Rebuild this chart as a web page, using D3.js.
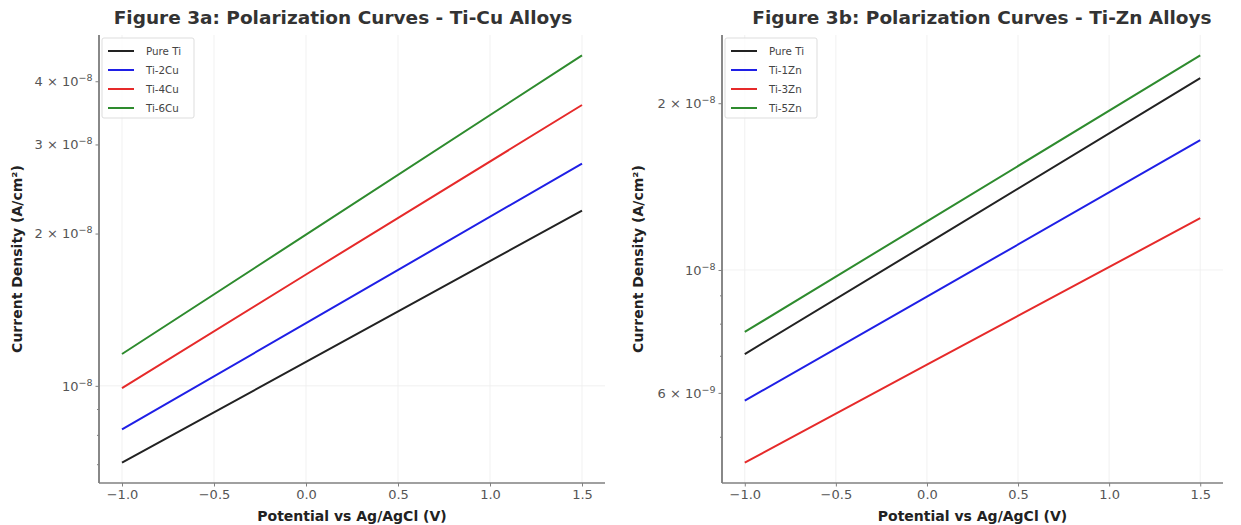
<!DOCTYPE html>
<html>
<head>
<meta charset="utf-8">
<style>
  body { margin: 0; background: #fff; }
  svg { font-family: "DejaVu Sans", sans-serif; }
  .title { font-size: 18.5px; font-weight: bold; fill: #333; }
  .alabel { font-size: 14px; font-weight: bold; fill: #222; }
  .tick text { font-size: 13px; fill: #555; font-family: "DejaVu Sans", sans-serif; }
  .legend text { font-size: 10.3px; fill: #444; }
</style>
</head>
<body>
<script src="https://d3js.org/d3.v7.min.js"></script>
<script>
// potentials (V vs Ag/AgCl)
var potentials = [-1.0, 0.0, 1.5];

// Figure 3a, current density in A/cm^2
var cuNames = ["Pure Ti", "Ti-2Cu", "Ti-4Cu", "Ti-6Cu"];
var pureTi  = [7.05e-9, 1.115e-8, 2.22e-8];
var ti2Cu   = [8.2e-9, 1.33e-8, 2.75e-8];
var ti4Cu   = [9.9e-9, 1.66e-8, 3.59e-8];
var ti6Cu   = [1.156e-8, 1.99e-8, 4.5e-8];

// Figure 3b
var znNames = ["Pure Ti", "Ti-1Zn", "Ti-3Zn", "Ti-5Zn"];
var ti1Zn   = [5.81e-9, 8.95e-9, 1.715e-8];
var ti3Zn   = [4.49e-9, 6.75e-9, 1.24e-8];
var ti5Zn   = [7.73e-9, 1.224e-8, 2.44e-8];

var colors = ["#222222", "#1f1fe6", "#e62a2a", "#2e8b2e"];
var xTicks = [-1.0, -0.5, 0.0, 0.5, 1.0, 1.5];

var svg = d3.select("body").append("svg")
    .attr("width", 1241).attr("height", 525);

function sup(sel, d) {
  // writes "a × 10^-e" or "10^-e"
  var e = Math.floor(Math.log10(d) + 1e-9);
  var m = Math.round(d / Math.pow(10, e));
  sel.text(null);
  sel.append("tspan").text(m === 1 ? "10" : m + " \u00d7 10");
  sel.append("tspan").attr("dy", "-0.5em").style("font-size", "9.5px").text("\u2212" + (-e));
}

function panel(cfg) {
  var g = svg.append("g");
  var L = cfg.left, R = cfg.right, T = 35, B = 483;
  var all = [].concat.apply([], cfg.series);
  var lo = Math.log10(d3.min(all)), hi = Math.log10(d3.max(all));
  var pad = (hi - lo) * 0.05;
  var x = d3.scaleLinear().domain([-1.125, 1.625]).range([L, R]);
  var y = d3.scaleLog().domain([Math.pow(10, lo - pad), Math.pow(10, hi + pad)]).range([B, T]);

  // grid
  g.selectAll(".vg").data(xTicks).enter().append("line")
    .attr("x1", d => x(d)).attr("x2", d => x(d)).attr("y1", T).attr("y2", B)
    .attr("stroke", "#eeeeee").attr("stroke-width", 0.8);
  g.append("line").attr("x1", L).attr("x2", R).attr("y1", y(1e-8)).attr("y2", y(1e-8))
    .attr("stroke", "#eeeeee").attr("stroke-width", 0.8);

  // lines
  var line = d3.line().x((d, i) => x(potentials[i])).y(d => y(d));
  g.selectAll(".curve").data(cfg.series).enter().append("path")
    .attr("d", d => line(d)).attr("fill", "none")
    .attr("stroke", (d, i) => colors[i]).attr("stroke-width", 2);

  // axes
  var xa = g.append("g").attr("transform", "translate(0," + B + ")")
    .call(d3.axisBottom(x).tickValues(xTicks).tickSize(3.5).tickPadding(3)
      .tickFormat(d => d3.format(".1f")(d).replace("-", "\u2212")));
  var ya = g.append("g").attr("transform", "translate(" + L + ",0)")
    .call(d3.axisLeft(y).tickValues(cfg.minor).tickSize(2).tickFormat(""));
  var yb = g.append("g").attr("transform", "translate(" + L + ",0)")
    .call(d3.axisLeft(y).tickValues(cfg.labeled).tickSize(3.5).tickPadding(3));
  yb.selectAll(".tick text").each(function (d) { sup(d3.select(this), d); });
  [xa, ya, yb].forEach(a => {
    a.select(".domain").attr("stroke", "#808080").attr("stroke-width", 1.5);
    a.selectAll(".tick line").attr("stroke", "#808080");
  });
  ya.select(".domain").attr("d", "M0," + B + "V" + T);
  yb.select(".domain").attr("d", "M0," + B + "V" + T);
  xa.select(".domain").attr("d", "M" + L + ",0H" + R);

  g.append("text").attr("class", "title").attr("x", cfg.tx).attr("y", 24)
    .attr("text-anchor", "middle").text(cfg.title);
  g.append("text").attr("class", "alabel").attr("x", (L + R) / 2).attr("y", 521)
    .attr("text-anchor", "middle").text("Potential vs Ag/AgCl (V)");
  g.append("text").attr("class", "alabel")
    .attr("transform", "translate(" + cfg.ylx + "," + ((T + B) / 2) + ") rotate(-90)")
    .attr("text-anchor", "middle").text("Current Density (A/cm\u00b2)");

  // legend
  var lg = g.append("g").attr("class", "legend").attr("transform", "translate(" + (L + 3) + ",38)");
  lg.append("rect").attr("width", 92).attr("height", 80).attr("rx", 2)
    .attr("fill", "#fff").attr("fill-opacity", 0.8).attr("stroke", "#ddd");
  var it = lg.selectAll(".it").data(cfg.names).enter().append("g")
    .attr("transform", (d, i) => "translate(6," + (13 + i * 19) + ")");
  it.append("line").attr("x1", 0).attr("x2", 26).attr("stroke", (d, i) => colors[i]).attr("stroke-width", 2);
  it.append("text").attr("x", 38).attr("y", 3.7).text(d => d);
}

panel({ left: 99, right: 605, ylx: 22, tx: 343, title: "Figure 3a: Polarization Curves - Ti-Cu Alloys",
  series: [pureTi, ti2Cu, ti4Cu, ti6Cu], names: cuNames,
  minor: [7e-9, 8e-9, 9e-9], labeled: [1e-8, 2e-8, 3e-8, 4e-8] });
panel({ left: 722, right: 1223, ylx: 643, tx: 982, title: "Figure 3b: Polarization Curves - Ti-Zn Alloys",
  series: [pureTi, ti1Zn, ti3Zn, ti5Zn], names: znNames,
  minor: [5e-9, 7e-9, 8e-9, 9e-9], labeled: [6e-9, 1e-8, 2e-8] });
</script>
</body>
</html>
